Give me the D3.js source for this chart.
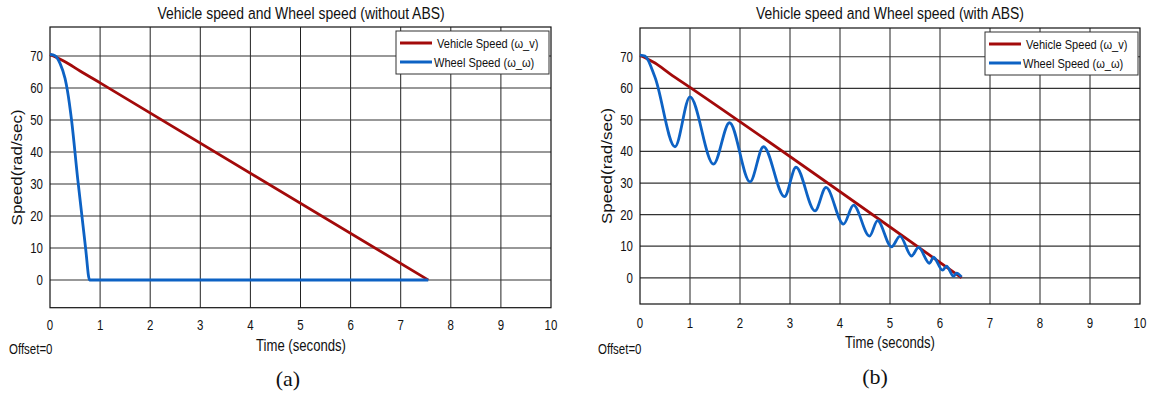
<!DOCTYPE html>
<html>
<head>
<meta charset="utf-8">
<script src="https://cdn.jsdelivr.net/npm/d3@7"></script>
<style>
  body { margin: 0; background: #fff; }
  text { font-family: "Liberation Sans", Arial, sans-serif; fill: #111; }
</style>
</head>
<body>
<div id="chart"></div>
<script>
// ---------- data ----------
var xTicks = [0, 1, 2, 3, 4, 5, 6, 7, 8, 9, 10];
var yTicks = [0, 10, 20, 30, 40, 50, 60, 70];
var legendLabels = ["Vehicle Speed (\u03c9_v)", "Wheel Speed (\u03c9_\u03c9)"];
var titles = ["Vehicle speed and Wheel speed (without ABS)", "Vehicle speed and Wheel speed (with ABS)"];
var captions = ["(a)", "(b)"];

// (a) without ABS  [time, speed]
var vehicleNoAbs = [[0, 70.5], [0.3, 68.2], [0.6, 65.3], [1, 61.6], [7.55, 0]];
var wheelNoAbs = [[0, 70.5], [0.1, 70.1], [0.2, 67.7], [0.3, 63], [0.35, 59], [0.43, 50],
                  [0.55, 32], [0.71, 10], [0.79, 0], [7.55, 0]];

// (b) with ABS
var vehicleAbs = [[0, 70.5], [0.3, 68], [0.6, 64.6], [1, 60.3], [6.43, 0]];
var wheelAbs = [[0, 70.5], [0.1, 70.2], [0.3, 63.5], [0.7, 41.5], [1.0, 57.3], [1.47, 36],
                [1.79, 49.1], [2.2, 30.4], [2.47, 41.5], [2.89, 25.7], [3.12, 35.0],
                [3.5, 21.2], [3.72, 28.6], [4.07, 17.0], [4.27, 23.0], [4.59, 13.2],
                [4.75, 18.1], [5.03, 9.8], [5.2, 13.2], [5.43, 6.9], [5.57, 9.6],
                [5.79, 4.6], [5.87, 6.5], [6.05, 2.4], [6.13, 3.7], [6.27, 0.5],
                [6.33, 1.5], [6.43, 0.3]];

// ---------- layout ----------
var W = 1151, H = 399;
var SX = 0.82; // the picture is squeezed sideways

var panels = [
  { left: 50, right: 551, top: 27, bottom: 307.7, ymin: -8.66, ymax: 79.06,
    vehicle: vehicleNoAbs, wheel: wheelNoAbs, title: titles[0], caption: captions[0],
    titleX: 301, xlabX: 301, xlabY: 351, tickY: 330, ylabX: 22, offX: 9, capX: 288, capY: 386 },
  { left: 640, right: 1140, top: 28, bottom: 304, ymin: -8.3, ymax: 79.1,
    vehicle: vehicleAbs, wheel: wheelAbs, title: titles[1], caption: captions[1],
    titleX: 890, xlabX: 890, xlabY: 348, tickY: 328, ylabX: 612, offX: 598, capX: 875, capY: 384 }
];

var svg = d3.select('#chart').append('svg')
  .attr('width', W).attr('height', H);

function label(g, x, y, str, size, anchor) {
  return g.append('text')
    .attr('transform', 'translate(' + x + ',' + y + ') scale(' + SX + ',1)')
    .attr('text-anchor', anchor || 'middle')
    .attr('font-size', size)
    .text(str);
}

panels.forEach(function(p) {
  var g = svg.append('g');
  var x = d3.scaleLinear().domain([0, 10]).range([p.left, p.right]);
  var y = d3.scaleLinear().domain([p.ymin, p.ymax]).range([p.bottom, p.top]);

  // grid
  g.selectAll('.vg').data(xTicks.slice(1, -1)).enter().append('line')
    .attr('x1', function(d) { return x(d); }).attr('x2', function(d) { return x(d); })
    .attr('y1', p.top).attr('y2', p.bottom)
    .attr('stroke', '#222').attr('stroke-width', 1);
  g.selectAll('.hg').data(yTicks).enter().append('line')
    .attr('x1', p.left).attr('x2', p.right)
    .attr('y1', function(d) { return y(d); }).attr('y2', function(d) { return y(d); })
    .attr('stroke', '#333').attr('stroke-width', 1.2);

  // frame
  g.append('rect')
    .attr('x', p.left).attr('y', p.top)
    .attr('width', p.right - p.left).attr('height', p.bottom - p.top)
    .attr('fill', 'none').attr('stroke', '#111').attr('stroke-width', 1.2);

  // tick labels
  xTicks.forEach(function(t) { label(g, x(t), p.tickY, t, 14); });
  yTicks.forEach(function(t) { label(g, p.left - 7, y(t) + 5, t, 14, 'end'); });

  // lines
  var line = d3.line()
    .x(function(d) { return x(d[0]); })
    .y(function(d) { return y(d[1]); })
    .curve(d3.curveMonotoneX);

  g.append('path').datum(p.vehicle).attr('d', line)
    .attr('fill', 'none').attr('stroke', '#a30a0a').attr('stroke-width', 2.8);
  g.append('path').datum(p.wheel).attr('d', line)
    .attr('fill', 'none').attr('stroke', '#0d62c4').attr('stroke-width', 2.8)
    .attr('stroke-linejoin', 'round');

  // legend
  var lw = 153, lh = 43;
  var lx = p.right - 2 - lw, ly = p.top + 4;
  var lg = g.append('g');
  lg.append('rect').attr('x', lx).attr('y', ly).attr('width', lw).attr('height', lh)
    .attr('fill', '#fff').attr('stroke', '#333').attr('stroke-width', 1);
  [['#a30a0a', 12, 41], ['#0d62c4', 31, 38]].forEach(function(s, i) {
    lg.append('line')
      .attr('x1', lx + 4).attr('x2', lx + 36)
      .attr('y1', ly + s[1]).attr('y2', ly + s[1])
      .attr('stroke', s[0]).attr('stroke-width', 3);
    label(lg, lx + s[2], ly + s[1] + 5, legendLabels[i], 13.5, 'start');
  });

  // titles and axis labels
  label(g, p.titleX, 19, p.title, 17);
  label(g, p.xlabX, p.xlabY, 'Time (seconds)', 16);
  g.append('text')
    .attr('transform', 'translate(' + p.ylabX + ',' + ((p.top + p.bottom) / 2) + ') scale(' + SX + ',1) rotate(-90)')
    .attr('text-anchor', 'middle').attr('font-size', 17)
    .text('Speed(rad/sec)');
  label(g, p.offX, 354, 'Offset=0', 14, 'start');

  // caption
  g.append('text')
    .attr('x', p.capX).attr('y', p.capY)
    .attr('text-anchor', 'middle')
    .style('font-family', '"Liberation Serif", "Times New Roman", serif')
    .attr('font-size', 22)
    .text(p.caption);
});
</script>
</body>
</html>
